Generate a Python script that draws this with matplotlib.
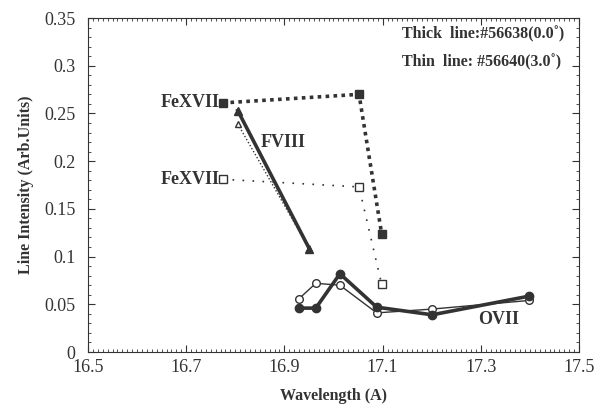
import matplotlib.pyplot as plt
from matplotlib.ticker import MultipleLocator

plt.rcParams['font.family'] = ['Liberation Serif', 'DejaVu Serif']

# FeXVII lines
fe_wl = [16.774, 17.052, 17.098]
fe_thick = [0.261, 0.270, 0.124]
fe_thin = [0.181, 0.173, 0.071]

# FVIII lines
f_wl = [16.805, 16.951]
f_thick = [0.253, 0.108]
f_thin = [0.239, 0.108]

# OVII lines
o_wl = [16.930, 16.964, 17.013, 17.088, 17.201, 17.398]
o_thick = [0.046, 0.046, 0.082, 0.047, 0.039, 0.0585]
o_thin = [0.056, 0.072, 0.070, 0.041, 0.045, 0.054]

col = '#333333'

fig = plt.figure(figsize=(6.01, 4.12), dpi=100)
ax = fig.add_axes([0.1464, 0.1456, 0.8170, 0.8107])

# thin line shot (drawn first, thick one on top)
ax.plot(fe_wl, fe_thin, ls=(0, (1, 5)), lw=1.2, color=col,
        marker='s', ms=6, mfc='white', mec=col, mew=1)
ax.plot(f_wl, f_thin, ls=(0, (1, 1.5)), lw=1.0, color=col,
        marker='^', ms=5, mfc='white', mec=col, mew=1)
ax.plot(o_wl, o_thin, ls='-', lw=1.0, color=col,
        marker='o', ms=5.5, mfc='white', mec=col, mew=1)

# thick line shot
ax.plot(fe_wl, fe_thick, ls=(0, (1, 1.2)), lw=2.6, color=col,
        marker='s', ms=6, mfc=col, mec=col)
ax.plot(f_wl, f_thick, ls='-', lw=2.6, color=col,
        marker='^', ms=6, mfc=col, mec=col)
ax.plot(o_wl, o_thick, ls='-', lw=2.6, color=col,
        marker='o', ms=6, mfc=col, mec=col)

# labels on the plot
ax.text(16.768, 0.261, 'FeXVII', ha='right', va='center', fontsize=13, fontweight='bold', color=col)
ax.text(16.768, 0.181, 'FeXVII', ha='right', va='center', fontsize=13, fontweight='bold', color=col)
ax.text(16.852, 0.220, 'FVIII', ha='left', va='center', fontsize=13, fontweight='bold', color=col)
ax.text(17.294, 0.034, 'OVII', ha='left', va='center', fontsize=13, fontweight='bold', color=col)
ax.text(17.14, 0.333, 'Thick  line:#56638(0.0˚)', ha='left', va='center', fontsize=11.5, fontweight='bold', color=col)
ax.text(17.14, 0.304, 'Thin  line: #56640(3.0˚)', ha='left', va='center', fontsize=11.5, fontweight='bold', color=col)

ax.set_xlim(16.5, 17.5)
ax.set_ylim(0, 0.35)
ax.xaxis.set_minor_locator(MultipleLocator(0.01))
ax.yaxis.set_minor_locator(MultipleLocator(0.01))
ax.set_xticks([16.5, 16.7, 16.9, 17.1, 17.3, 17.5])
ax.set_xticklabels(['16.5', '16.7', '16.9', '17.1', '17.3', '17.5'])
ax.set_yticks([0, 0.05, 0.1, 0.15, 0.2, 0.25, 0.3, 0.35])
ax.set_yticklabels(['0', '0.05', '0.1', '0.15', '0.2', '0.25', '0.3', '0.35'])
ax.tick_params(which='both', direction='in', top=True, right=True, colors=col, labelsize=13)
ax.tick_params(which='major', length=5, width=0.8)
ax.tick_params(axis='y', which='major', pad=9)
ax.tick_params(axis='x', which='major', pad=5)
ax.tick_params(which='minor', length=2.5, width=0.6)
for s in ax.spines.values():
    s.set_linewidth(0.8)
    s.set_color(col)

ax.set_xlabel('Wavelength (A)', fontsize=11.5, fontweight='bold', color=col, labelpad=9)
ax.set_ylabel('Line Intensity (Arb.Units)', fontsize=11.5, fontweight='bold', color=col, labelpad=7)

plt.savefig('out.png', dpi=100)
